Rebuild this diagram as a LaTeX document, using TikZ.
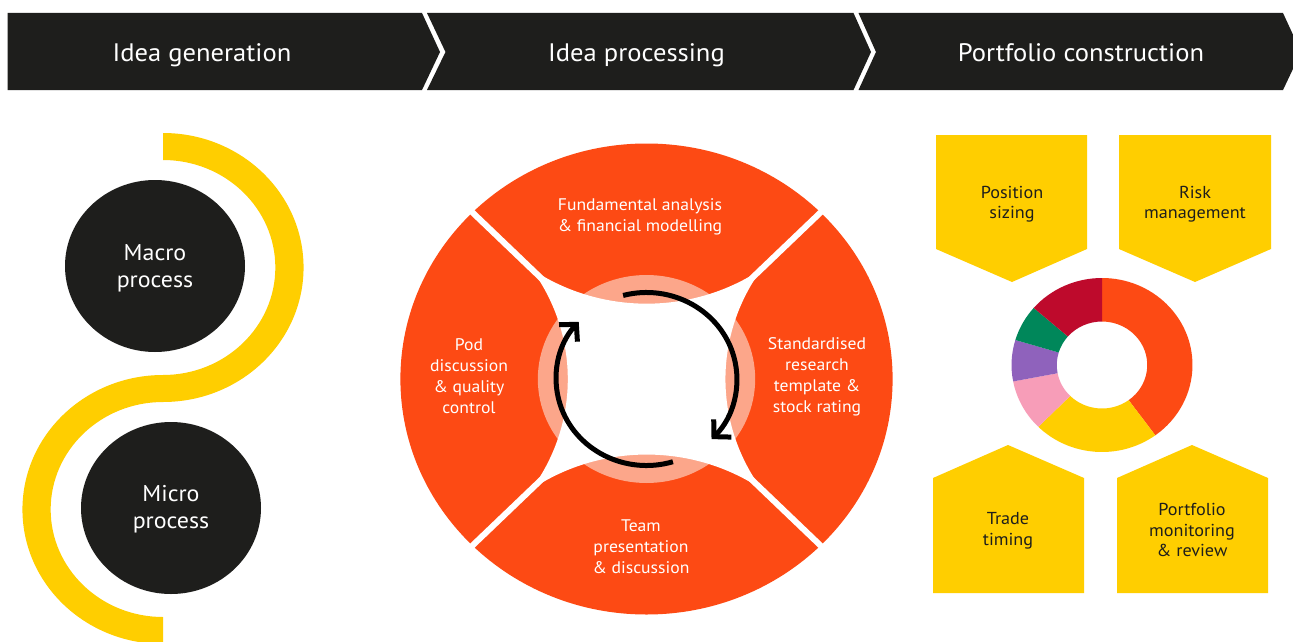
\documentclass[tikz,border=0pt]{standalone}
\usepackage{fontspec}
\setmainfont[FakeStretch=1.05]{PT Sans}
\usetikzlibrary{arrows.meta}
\definecolor{hdr}{HTML}{1E1E1C}
\definecolor{ylw}{HTML}{FFCE00}
\definecolor{orng}{HTML}{FD4A14}
\definecolor{salmon}{HTML}{FCA68A}
\definecolor{dpink}{HTML}{F79DB8}
\definecolor{dpurple}{HTML}{8F62BC}
\definecolor{dgreen}{HTML}{00875A}
\definecolor{dcrimson}{HTML}{BE0A2C}
\begin{document}
\begin{tikzpicture}[x=1pt,y=-1pt,
  hdrtext/.style={text=white, inner sep=0pt, anchor=base, font=\fontsize{25.3}{29}\selectfont},
  ringtext/.style={text=white, align=center, inner sep=0pt, font=\fontsize{16.8}{21}\selectfont},
  circtext/.style={text=white, align=center, inner sep=0pt, font=\fontsize{22.8}{27}\selectfont},
  boxtext/.style={text=hdr, align=center, inner sep=0pt, font=\fontsize{17.3}{20.5}\selectfont},
  cycarrow/.style={black, line width=5pt, -{Straight Barb[length=12pt,width=25pt,line width=5pt]}}
]
\clip (0,0) rectangle (1293,642);
\fill[white] (0,0) rectangle (1293,642);

% ---------- header ----------
\fill[hdr] (7.5,13) -- (422,13) -- (440,52) -- (422,90) -- (7.5,90) -- cycle;
\fill[hdr] (427,13) -- (853.5,13) -- (871,52) -- (853.5,90) -- (427,90) -- (445.5,52) -- cycle;
\fill[hdr] (858.5,13) -- (1283,13) -- (1301,52) -- (1283,90) -- (858.5,90) -- (876,52) -- cycle;
\node[hdrtext] (h1) at (202,61.5) {Idea generation};
\node[hdrtext] (h2) at (636.5,61.5) {Idea processing};
\node[hdrtext] (h3) at (1081,61.5) {Portfolio construction};

% ---------- left: S curve and circles ----------
\begin{scope}[shift={(163,267.5)}, xscale=1.045, yscale=-1]
  \fill[ylw] (0,134.5) arc[start angle=90,end angle=-90,radius=134.5]
    -- (0,-107.5) arc[start angle=-90,end angle=90,radius=107.5] -- cycle;
\end{scope}
\begin{scope}[shift={(163,509.5)}, xscale=1.045, yscale=-1]
  \fill[ylw] (0,134.5) arc[start angle=90,end angle=270,radius=134.5]
    -- (0,-107.5) arc[start angle=270,end angle=90,radius=107.5] -- cycle;
\end{scope}
\fill[hdr] (155,266) ellipse[x radius=90, y radius=86];
\fill[hdr] (171,508) ellipse[x radius=90, y radius=86];
\node[circtext] (macro) at (155,268) {Macro\\process};
\node[circtext] (micro) at (171,509) {Micro\\process};

% ---------- middle ring ----------
\begin{scope}[shift={(646.5,379)}, xscale=1.045, yscale=-1]
  \fill[orng] (0,0) circle[radius=235.5];
  \fill[salmon] (0,0) circle[radius=104];
  \fill[white] (-109.9,109.9)
    arc[start angle=235.1,end angle=304.9,radius=192.3]
    arc[start angle=145.1,end angle=214.9,radius=192.3]
    arc[start angle=55.1,end angle=124.9,radius=192.3]
    arc[start angle=-34.9,end angle=34.9,radius=192.3] -- cycle;
  \draw[white, line width=6pt] (-245,245) -- (245,-245) (-245,-245) -- (245,245);
  \draw[cycarrow] (105:86.5) arc[start angle=105,end angle=-44,radius=86.5];
  \draw[cycarrow] (-73:86.5) arc[start angle=-73,end angle=-221.4,radius=86.5];
\end{scope}
\node[ringtext] (fund) at (640,217) {Fundamental analysis\\\& financial modelling};
\node[ringtext] (pod) at (469,376) {Pod\\discussion\\\& quality\\control};
\node[ringtext] (std) at (817,377) {Standardised\\research\\template \&\\stock rating};
\node[ringtext] (team) at (641,547) {Team\\presentation\\\& discussion};

% ---------- right: pentagons ----------
\fill[ylw] (936,135) -- (1087,135) -- (1087,249) -- (1012,282) -- (936,249) -- cycle;
\fill[ylw] (1119,135) -- (1271,135) -- (1271,249) -- (1195,282) -- (1119,249) -- cycle;
\fill[ylw] (933,593) -- (1084,593) -- (1084,478) -- (1008,445) -- (933,478) -- cycle;
\fill[ylw] (1117,593) -- (1268,593) -- (1268,478) -- (1192,445) -- (1117,478) -- cycle;
\node[boxtext] (pos) at (1012,204) {Position\\sizing};
\node[boxtext] (risk) at (1195,204) {Risk\\management};
\node[boxtext] (trade) at (1008,531) {Trade\\timing};
\node[boxtext] (mon) at (1192,530) {Portfolio\\monitoring\\\& review};

% ---------- donut ----------
\begin{scope}[shift={(1102,365)}, xscale=1.04, yscale=-1]
  \def\RO{87}\def\RI{43.5}
  \fill[orng] (90:\RO) arc[start angle=90,end angle=-53.9,radius=\RO] -- (-53.9:\RI) arc[start angle=-53.9,end angle=90,radius=\RI] -- cycle;
  \fill[ylw] (-53.9:\RO) arc[start angle=-53.9,end angle=-134.7,radius=\RO] -- (-134.7:\RI) arc[start angle=-134.7,end angle=-53.9,radius=\RI] -- cycle;
  \fill[dpink] (225.3:\RO) arc[start angle=225.3,end angle=190.9,radius=\RO] -- (190.9:\RI) arc[start angle=190.9,end angle=225.3,radius=\RI] -- cycle;
  \fill[dpurple] (190.9:\RO) arc[start angle=190.9,end angle=163.3,radius=\RO] -- (163.3:\RI) arc[start angle=163.3,end angle=190.9,radius=\RI] -- cycle;
  \fill[dgreen] (163.3:\RO) arc[start angle=163.3,end angle=139,radius=\RO] -- (139:\RI) arc[start angle=139,end angle=163.3,radius=\RI] -- cycle;
  \fill[dcrimson] (139:\RO) arc[start angle=139,end angle=90,radius=\RO] -- (90:\RI) arc[start angle=90,end angle=139,radius=\RI] -- cycle;
\end{scope}
\end{tikzpicture}
\end{document}
